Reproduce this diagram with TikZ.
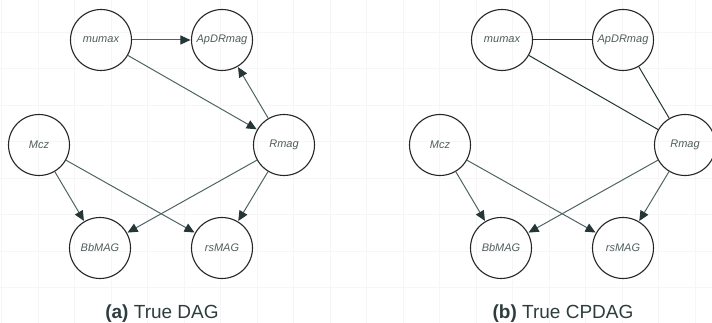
\documentclass[tikz,border=0pt]{standalone}
\usepackage{fontspec}
\setsansfont{Liberation Sans}
\usepackage{xcolor}
\usetikzlibrary{arrows.meta}

\definecolor{edgegray}{RGB}{80,100,100}
\definecolor{tipgray}{RGB}{36,54,54}
\definecolor{labelgray}{RGB}{80,92,92}
\definecolor{capgray}{RGB}{45,60,60}

\tikzset{
  var/.style={circle, draw=black!85, line width=1.1pt, minimum size=61pt, inner sep=0pt,
    text=labelgray, font=\sffamily\itshape\fontsize{11}{13}\selectfont},
  dir/.style={draw=edgegray, line width=1pt,
    -{Triangle[length=10pt,width=9pt,color=tipgray,fill=tipgray]}, shorten >=0.5pt},
  undir/.style={draw=tipgray, line width=1pt},
  caption/.style={font=\sffamily\fontsize{19}{22}\selectfont, text=capgray, anchor=base}
}

\begin{document}
\begin{tikzpicture}[x=1pt, y=-1pt]
\useasboundingbox (0,0) rectangle (712,323);
%%%%% Background grid %%%%%
\foreach \gx in {1.5,38,...,712}{
  \draw[color=gray!7, line width=0.6pt] (\gx,0)--(\gx,323);
}
\foreach \gy in {32,68.5,...,323}{
  \draw[color=gray!7, line width=0.6pt] (0,\gy)--(712,\gy);
}
%%%%% Nodes, both panels %%%%%
\foreach \p/\dx in {a/0,b/401}{
  \node[var] (\p-mumax) at (101+\dx,40) {mumax};
  \node[var] (\p-apdr) at (222+\dx,40) {ApDRmag};
  \node[var] (\p-mcz) at (39+\dx,145) {Mcz};
  \node[var] (\p-rmag) at (284+\dx,145) {Rmag};
  \node[var] (\p-bbmag) at (100+\dx,248) {BbMAG};
  \node[var] (\p-rsmag) at (222+\dx,248) {rsMAG};
}
%%%%% (a) True DAG %%%%%
\draw[dir] (a-mumax)--(a-apdr);
\draw[dir] (a-mumax)--(a-rmag);
\draw[dir] (a-rmag)--(a-apdr);
\draw[dir] (a-mcz)--(a-bbmag);
\draw[dir] (a-mcz)--(a-rsmag);
\draw[dir] (a-rmag)--(a-bbmag);
\draw[dir] (a-rmag)--(a-rsmag);
\node[caption] (capa) at (162,318) {\textbf{(a)} True DAG};
%%%%% (b) True CPDAG %%%%%
\draw[undir] (b-mumax)--(b-apdr);
\draw[undir] (b-mumax)--(b-rmag);
\draw[undir] (b-apdr)--(b-rmag);
\draw[dir] (b-mcz)--(b-bbmag);
\draw[dir] (b-mcz)--(b-rsmag);
\draw[dir] (b-rmag)--(b-bbmag);
\draw[dir] (b-rmag)--(b-rsmag);
\node[caption] (capb) at (563,318) {\textbf{(b)} True CPDAG};
\end{tikzpicture}
\end{document}
